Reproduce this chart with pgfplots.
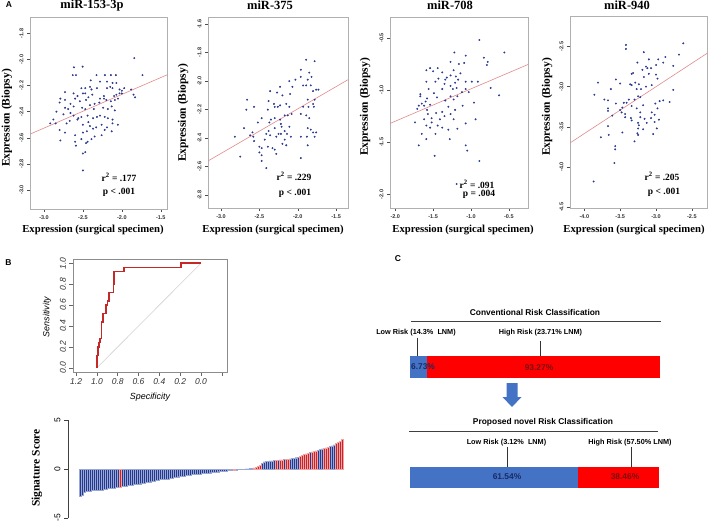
\documentclass[border=0pt]{standalone}
\usepackage{fontspec}
\setmainfont{Liberation Serif}
\setsansfont{Liberation Sans}
\usepackage{pgfplots}
\pgfplotsset{compat=1.18}
\definecolor{ptblue}{HTML}{2B3A8F}
\definecolor{regred}{HTML}{E08A8A}
\definecolor{boxgray}{HTML}{B0B0B0}
\definecolor{navy}{HTML}{253A8E}
\definecolor{lnavy}{HTML}{9AA8D6}
\definecolor{bred}{HTML}{C4262B}
\definecolor{lred}{HTML}{F2A3A3}
\definecolor{rocred}{HTML}{C62828}
\definecolor{cblue}{HTML}{4472C4}
\definecolor{cred}{HTML}{FF0000}
\definecolor{darkblue}{HTML}{1B2A66}
\definecolor{darkred}{HTML}{7A0F0F}
\definecolor{arrowblue}{HTML}{4472C4}

\pgfplotsset{
  scat/.style={
    scale only axis, anchor=south west,
    axis line style={boxgray, line width=0.9pt},
    tick pos=left, tick align=outside, major tick length=3pt,
    tick style={black!70, line width=0.45pt},
    ticklabel style={font=\sffamily\bfseries\fontsize{5.5}{6}\selectfont, text=black!80},
    yticklabel style={rotate=90, anchor=south},
    /pgf/number format/fixed,
    /pgf/number format/fixed zerofill,
    /pgf/number format/precision=1,
    /pgf/number format/assume math mode=true,
  },
  pts/.style={only marks, mark=*, mark size=0.75pt, ptblue},
  reg/.style={regred, line width=0.6pt},
}

\newcommand{\ttl}{\fontsize{12.5}{14}\selectfont\bfseries}
\newcommand{\xlab}{\fontsize{10.7}{12}\selectfont\bfseries}
\newcommand{\ylab}{\fontsize{11.5}{13}\selectfont\bfseries}
\newcommand{\ann}{\fontsize{9.5}{11}\selectfont\bfseries}
\newcommand{\ctit}{\sffamily\bfseries\fontsize{8.4}{10}\selectfont}
\newcommand{\clab}{\sffamily\bfseries\fontsize{7.3}{9}\selectfont}
\newcommand{\cpct}{\sffamily\bfseries\fontsize{8.4}{10}\selectfont}

\begin{document}
\begin{tikzpicture}[x=1pt,y=1pt]
\path[use as bounding box] (0,0) rectangle (709,525);

% ---------------- Panel A ----------------
\begin{axis}[scat, at={(30pt,316pt)}, width=137pt, height=192pt,
  xmin=-3.18, xmax=-1.42, ymin=-3.145, ymax=-1.675,
  xtick={-3,-2.5,-2,-1.5}, ytick={-3,-2.8,-2.6,-2.4,-2.2,-2,-1.8}]
\addplot[reg] coordinates {(-3.18,-2.572) (-1.42,-2.118)};
\addplot[pts] coordinates {
(-1.84,-1.99) (-1.735,-2.12) (-2.615,-2.06) (-2.504,-2.055)
(-2.63,-2.12) (-2.59,-2.12) (-2.325,-2.12) (-2.218,-2.12) (-2.141,-2.12) (-2.077,-2.12)
(-2.40,-2.16) (-2.28,-2.17) (-2.19,-2.17) (-2.12,-2.18) (-2.07,-2.18)
(-2.52,-2.22) (-2.47,-2.22) (-2.41,-2.21) (-2.39,-2.23) (-2.32,-2.22) (-2.19,-2.22) (-2.15,-2.21) (-2.12,-2.22) (-2.03,-2.23) (-2.00,-2.24) (-1.97,-2.22) (-2.03,-2.26) (-1.88,-2.23)
(-2.73,-2.25) (-2.62,-2.26) (-2.57,-2.28) (-2.50,-2.26) (-2.47,-2.26) (-2.43,-2.29) (-2.38,-2.27) (-2.28,-2.30) (-2.23,-2.28) (-2.10,-2.28) (-2.07,-2.27) (-2.00,-2.26) (-1.83,-2.29) (-1.85,-2.27)
(-2.79,-2.30) (-2.73,-2.31) (-2.66,-2.34) (-2.60,-2.30) (-2.54,-2.32) (-2.46,-2.31) (-2.41,-2.35) (-2.35,-2.34) (-2.29,-2.33) (-2.23,-2.30) (-2.20,-2.31) (-2.14,-2.32) (-2.09,-2.31) (-2.05,-2.30)
(-2.92,-2.49) (-2.80,-2.33) (-2.73,-2.37) (-2.69,-2.38) (-2.62,-2.36) (-2.51,-2.37) (-2.47,-2.38) (-2.36,-2.38) (-2.24,-2.37) (-2.18,-2.38) (-2.13,-2.36) (-2.09,-2.39)
(-2.84,-2.40) (-2.75,-2.42) (-2.66,-2.41) (-2.62,-2.43) (-2.56,-2.45) (-2.52,-2.44) (-2.44,-2.43) (-2.37,-2.45) (-2.32,-2.44) (-2.28,-2.43) (-2.22,-2.44) (-2.18,-2.45) (-2.12,-2.46)
(-2.88,-2.46) (-2.85,-2.49) (-2.71,-2.49) (-2.67,-2.47) (-2.57,-2.46) (-2.50,-2.50) (-2.43,-2.48) (-2.41,-2.51) (-2.37,-2.53) (-2.33,-2.52) (-2.26,-2.50) (-2.12,-2.49) (-2.05,-2.50) (-2.19,-2.52)
(-2.80,-2.54) (-2.73,-2.56) (-2.60,-2.58) (-2.50,-2.56) (-2.45,-2.55) (-2.35,-2.59) (-2.26,-2.58) (-2.13,-2.55) (-2.22,-2.54)
(-2.79,-2.62) (-2.60,-2.63) (-2.52,-2.61) (-2.46,-2.64) (-2.44,-2.63) (-2.39,-2.61) (-2.59,-2.66)
(-2.47,-2.71) (-2.50,-2.72) (-2.50,-2.85)
};
\end{axis}

\begin{axis}[scat, at={(208pt,317pt)}, width=140pt, height=191pt,
  xmin=-3.17, xmax=-1.345, ymin=-2.89, ymax=-1.55,
  xtick={-3,-2.5,-2,-1.5}, ytick={-2.8,-2.6,-2.4,-2.2,-2,-1.8,-1.6}]
\addplot[reg] coordinates {(-3.17,-2.56) (-1.345,-1.99)};
\addplot[pts] coordinates {
(-1.89,-1.85) (-1.78,-1.86) (-1.96,-1.92) (-1.85,-1.94) (-1.96,-1.97) (-1.82,-1.97) (-1.87,-1.99) (-2.03,-1.99)
(-1.93,-2.03) (-1.89,-2.03) (-1.83,-2.03) (-2.11,-2.00) (-2.07,-2.04) (-2.23,-2.04) (-2.36,-2.07) (-2.27,-2.08)
(-2.10,-2.09) (-1.80,-2.07) (-1.76,-2.06) (-1.73,-2.06) (-2.66,-2.13) (-2.38,-2.14) (-2.31,-2.16) (-2.23,-2.17)
(-2.15,-2.16) (-2.11,-2.18) (-2.30,-2.18) (-2.57,-2.18) (-2.26,-2.18) (-1.78,-2.13) (-1.80,-2.16) (-1.79,-2.18)
(-2.67,-2.20) (-2.39,-2.20) (-1.86,-2.18) (-2.08,-2.23) (-2.17,-2.24) (-2.13,-2.24) (-1.96,-2.23) (-1.89,-2.24)
(-1.85,-2.26) (-2.47,-2.26) (-2.30,-2.26) (-2.23,-2.27) (-2.37,-2.29) (-2.35,-2.27) (-2.52,-2.29) (-2.22,-2.30)
(-2.21,-2.32) (-2.11,-2.32) (-2.30,-2.33) (-2.70,-2.33) (-1.87,-2.33) (-2.38,-2.35) (-2.17,-2.35) (-2.22,-2.37)
(-2.41,-2.37) (-2.36,-2.38) (-2.25,-2.37) (-2.14,-2.37) (-1.83,-2.34) (-1.80,-2.36) (-1.76,-2.36) (-2.58,-2.39)
(-2.82,-2.39) (-2.28,-2.39) (-2.09,-2.39) (-1.96,-2.39) (-1.88,-2.39) (-1.78,-2.39) (-2.57,-2.42) (-2.43,-2.41)
(-2.17,-2.41) (-2.20,-2.44) (-2.15,-2.45) (-1.87,-2.45) (-2.50,-2.46) (-2.47,-2.47) (-2.39,-2.46) (-2.33,-2.47)
(-2.30,-2.48) (-2.50,-2.50) (-2.47,-2.52) (-2.28,-2.51) (-1.96,-2.54) (-2.75,-2.53) (-2.47,-2.56) (-2.41,-2.61)
(-2.59,-2.36) (-1.87,-2.13) (-1.93,-2.18) (-2.20,-2.10) (-2.62,-2.38)
};
\end{axis}

\begin{axis}[scat, at={(390pt,317pt)}, width=138pt, height=191pt,
  xmin=-2.07, xmax=-0.247, ymin=-2.13, ymax=-0.30,
  xtick={-2,-1.5,-1,-0.5}, ytick={-2,-1.5,-1,-0.5}]
\addplot[reg] coordinates {(-2.07,-1.32) (-0.247,-0.755)};
\addplot[pts] coordinates {
(-0.89,-0.52) (-0.56,-0.64) (-1.22,-0.64) (-1.07,-0.67) (-0.83,-0.69) (-1.27,-0.73) (-1.09,-0.74) (-0.78,-0.73)
(-0.79,-0.76) (-1.54,-0.79) (-1.44,-0.79) (-1.59,-0.81) (-1.50,-0.82) (-1.23,-0.81) (-1.16,-0.75) (-1.38,-0.83)
(-1.14,-0.84) (-1.27,-0.86) (-1.20,-0.87) (-1.32,-0.88) (-1.34,-0.90) (-1.43,-0.89) (-1.17,-0.90) (-1.07,-0.92)
(-0.99,-0.92) (-0.91,-0.92) (-1.59,-0.92) (-1.47,-0.92) (-1.21,-0.93) (-1.35,-0.94) (-1.27,-0.96) (-1.38,-0.99)
(-1.56,-0.99) (-1.19,-0.98) (-1.07,-0.99) (-0.74,-0.98) (-1.24,-0.99) (-1.67,-1.04) (-1.67,-1.06) (-1.49,-1.03)
(-1.12,-1.02) (-1.03,-1.02) (-0.63,-1.05) (-1.27,-1.06) (-1.18,-1.06) (-1.45,-1.07) (-1.58,-1.08) (-1.34,-1.10)
(-1.23,-1.09) (-1.60,-1.11) (-0.96,-1.12) (-1.65,-1.13) (-1.62,-1.15) (-1.54,-1.14) (-1.69,-1.15) (-1.30,-1.16)
(-1.11,-1.15) (-1.71,-1.18) (-1.58,-1.19) (-1.21,-1.19) (-1.38,-1.21) (-1.46,-1.22) (-1.27,-1.23) (-1.57,-1.23)
(-1.35,-1.25) (-1.52,-1.27) (-1.74,-1.31) (-1.41,-1.28) (-1.23,-1.28) (-1.62,-1.28) (-0.94,-1.28) (-1.52,-1.31)
(-1.07,-1.32) (-1.59,-1.34) (-1.44,-1.34) (-1.38,-1.36) (-1.54,-1.36) (-1.30,-1.38) (-1.18,-1.37) (-1.65,-1.42)
(-1.47,-1.42) (-1.59,-1.47) (-1.28,-1.47) (-1.69,-1.53) (-1.07,-1.53) (-1.05,-1.58) (-1.48,-1.63) (-0.89,-1.68)
(-1.19,-1.90)
};
\end{axis}

\begin{axis}[scat, at={(570pt,317pt)}, width=137pt, height=192pt,
  xmin=-4.2, xmax=-2.289, ymin=-4.51, ymax=-2.12,
  xtick={-4,-3.5,-3,-2.5}, ytick={-4.5,-4,-3.5,-3,-2.5}]
\addplot[reg] coordinates {(-4.2,-3.70) (-2.289,-2.585)};
\addplot[pts] coordinates {
(-2.62,-2.46) (-3.42,-2.48) (-3.42,-2.53) (-2.68,-2.60) (-3.17,-2.57) (-2.87,-2.63) (-2.97,-2.66) (-3.10,-2.66)
(-2.90,-2.70) (-3.26,-2.70) (-3.00,-2.73) (-2.76,-2.74) (-3.14,-2.75) (-3.12,-2.77) (-3.07,-2.77) (-3.19,-2.79)
(-3.32,-2.83) (-3.34,-2.84) (-3.10,-2.84) (-3.00,-2.85) (-3.17,-2.88) (-2.98,-2.90) (-3.56,-2.91) (-3.81,-2.95)
(-3.29,-2.95) (-3.50,-2.96) (-3.36,-2.97) (-3.24,-2.97) (-3.34,-2.98) (-3.06,-2.98) (-3.14,-3.00) (-3.21,-3.03)
(-3.63,-3.03) (-3.27,-3.03) (-2.76,-3.04) (-3.86,-3.10) (-3.25,-3.12) (-3.22,-3.13) (-3.72,-3.16) (-3.38,-3.16)
(-3.30,-3.16) (-3.67,-3.17) (-3.45,-3.20) (-3.41,-3.20) (-2.90,-3.17) (-2.81,-3.19) (-2.95,-3.18) (-3.01,-3.21)
(-3.56,-3.21) (-3.18,-3.23) (-3.34,-3.24) (-3.47,-3.26) (-3.67,-3.27) (-2.98,-3.27) (-3.27,-3.27) (-3.67,-3.30)
(-3.50,-3.29) (-3.48,-3.32) (-3.22,-3.32) (-3.43,-3.34) (-3.06,-3.32) (-3.02,-3.35) (-3.61,-3.36) (-3.43,-3.38)
(-3.35,-3.39) (-3.22,-3.38) (-3.07,-3.39) (-3.34,-3.42) (-3.16,-3.40) (-2.96,-3.41) (-3.25,-3.45) (-3.13,-3.45)
(-3.02,-3.44) (-3.24,-3.48) (-3.67,-3.49) (-3.25,-3.52) (-2.99,-3.52) (-3.18,-3.53) (-3.47,-3.57) (-3.26,-3.58)
(-3.66,-3.60) (-3.25,-3.60) (-3.04,-3.59) (-3.77,-3.63) (-3.30,-3.68) (-3.57,-3.74) (-3.57,-3.78) (-3.58,-3.95)
(-3.87,-4.18)
};
\end{axis}

% Panel A texts
\node[font=\ttl] at (92,519.5) {miR-153-3p};
\node[font=\ttl] at (270,519.5) {miR-375};
\node[font=\ttl] at (450,519.5) {miR-708};
\node[font=\ttl] at (627,519.5) {miR-940};
\foreach \cx in {93,273,463,634} {\node[font=\xlab] at (\cx,295) {Expression (surgical specimen)};}
\node[font=\ylab, rotate=90] at (7,407) {Expression (Biopsy)};
\node[font=\ylab, rotate=90] at (183,412) {Expression (Biopsy)};
\node[font=\ylab, rotate=90] at (365,418) {Expression (Biopsy)};
\node[font=\ylab, rotate=90] at (547,418) {Expression (Biopsy)};
\node[font=\ann] at (119,348) {r\textsuperscript{2} = .177};
\node[font=\ann] at (119,333) {p < .001};
\node[font=\ann] at (294,349) {r\textsuperscript{2} = .229};
\node[font=\ann] at (295,332) {p < .001};
\node[font=\ann] at (477,341) {r\textsuperscript{2} = .091};
\node[font=\ann] at (479,331) {p = .004};
\node[font=\ann] at (662,349) {r\textsuperscript{2} = .205};
\node[font=\ann] at (664,333) {p < .001};

% panel letters
\node[font=\sffamily\bfseries\fontsize{8.5}{10}\selectfont] at (9,520) {A};
\node[font=\sffamily\bfseries\fontsize{8.5}{10}\selectfont] at (8.5,262) {B};
\node[font=\sffamily\bfseries\fontsize{8.5}{10}\selectfont] at (398,266) {C};

% ---------------- Panel B: ROC ----------------
\begin{axis}[at={(73pt,153pt)}, anchor=south west, scale only axis, width=154pt, height=113pt,
  xmin=-0.25, xmax=1.23, ymin=-0.04, ymax=1.04, x dir=reverse,
  axis line style={black!45, line width=0.6pt},
  tick pos=left, tick align=outside, major tick length=3.5pt,
  tick style={black!60, line width=0.5pt},
  xtick={-0.2,0,0.2,0.4,0.6,0.8,1.0,1.2}, xticklabels={,0.0,0.2,0.4,0.6,0.8,1.0,1.2},
  ytick={0,0.2,0.4,0.6,0.8,1.0},
  yticklabel style={rotate=90, anchor=south},
  ticklabel style={font=\sffamily\itshape\fontsize{8.5}{9}\selectfont, text=black!80},
  /pgf/number format/fixed, /pgf/number format/fixed zerofill,
  /pgf/number format/precision=1, /pgf/number format/assume math mode=true]
\addplot[black!18, line width=0.6pt] coordinates {(1,0) (0,1)};
\addplot[rocred, line width=1.5pt] coordinates {
(1,0) (1,0.12) (0.99,0.12) (0.99,0.20) (0.98,0.20) (0.98,0.24) (0.97,0.24) (0.97,0.28)
(0.955,0.28) (0.955,0.44) (0.94,0.44) (0.94,0.52) (0.915,0.52) (0.915,0.60) (0.90,0.60)
(0.90,0.64) (0.885,0.64) (0.885,0.72) (0.843,0.72) (0.843,0.80) (0.834,0.80) (0.834,0.92)
(0.738,0.92) (0.738,0.96) (0.19,0.96) (0.19,1.0) (0,1.0)};
\end{axis}
\node[font=\sffamily\itshape\fontsize{8.9}{10}\selectfont, rotate=90] at (47,208) {Sensitivity};
\node[font=\sffamily\itshape\fontsize{8.9}{10}\selectfont] at (150,128) {Specificity};

% ---------------- Panel B: signature score bars ----------------
\begin{axis}[at={(68pt,7pt)}, anchor=south west, scale only axis, width=282pt, height=98pt,
  xmin=-6, xmax=135, ymin=-5, ymax=5,
  axis x line=none, axis y line*=left, y axis line style={-, black!75, line width=0.6pt},
  ytick={-5,0,5}, yticklabels={-5,0,5}, tick align=outside, major tick length=4pt,
  tick style={black!75, line width=0.6pt},
  yticklabel style={rotate=90, anchor=south, font=\sffamily\fontsize{8.5}{9}\selectfont},
  clip=false]
\addplot[ybar, bar width=1, bar shift=0pt, fill=navy, draw=lnavy, line width=0.4pt] coordinates {
(0,-2.78) (1,-2.70) (2,-2.40) (3,-2.30) (4,-2.25) (5,-2.22) (6,-2.21) (7,-2.20) (8,-2.19) (9,-2.17)
(10,-2.15) (11,-2.12) (12,-2.08) (13,-2.04) (14,-2.00) (15,-1.98) (16,-1.95) (17,-1.92) (18,-1.90) (19,-1.88)
(21,-1.80) (22,-1.77) (23,-1.73) (24,-1.70) (25,-1.67) (26,-1.63) (27,-1.60) (28,-1.57) (29,-1.53)
(30,-1.50) (31,-1.46) (32,-1.42) (33,-1.38) (34,-1.34) (35,-1.30) (36,-1.25) (37,-1.20) (38,-1.15) (39,-1.10)
(40,-1.08) (41,-1.06) (42,-1.04) (43,-1.02) (44,-1.00) (45,-0.95) (46,-0.90) (47,-0.85) (48,-0.82) (49,-0.79)
(50,-0.76) (51,-0.73) (52,-0.70) (53,-0.67) (54,-0.64) (55,-0.61) (56,-0.58) (57,-0.55) (58,-0.53) (59,-0.51)
(60,-0.49) (61,-0.46) (62,-0.44) (63,-0.42) (64,-0.40) (65,-0.38) (66,-0.35) (67,-0.33) (68,-0.30) (69,-0.28)
(70,-0.25) (71,-0.23) (72,-0.21) (73,-0.19) (74,-0.17) (75,-0.14) (76,-0.12) (78,-0.08) (79,-0.06)
(80,-0.05) (81,-0.03) (82,-0.02) (83,0.01) (84,0.02) (85,0.05) (86,0.08)
(91,0.55) (92,0.72) (93,0.78) (94,0.80) (95,0.82) (96,0.84) (97,0.86) (99,0.90) (102,0.96)
(105,1.03) (106,1.07) (107,1.10) (108,1.15) (109,1.20) (115,1.70) (119,1.93) (120,2.00) (121,2.05)
(125,2.30) (126,2.35) (127,2.45)};
\addplot[ybar, bar width=1, bar shift=0pt, fill=bred, draw=lred, line width=0.4pt] coordinates {
(20,-1.85) (77,-0.10) (87,0.12) (88,0.18) (89,0.25) (90,0.40) (98,0.88) (100,0.92) (101,0.94) (103,0.98)
(104,1.00) (110,1.30) (111,1.40) (112,1.48) (113,1.55) (114,1.62) (116,1.75) (117,1.80) (118,1.86)
(122,2.10) (123,2.15) (124,2.22) (128,2.60) (129,2.70) (130,2.82) (131,3.00)};
\end{axis}
\node[font=\fontsize{11.5}{13}\selectfont\bfseries, rotate=90] at (37,57) {Signature Score};

% ---------------- Panel C ----------------
\node[font=\ctit] at (535,213) {Conventional Risk Classification};
\draw[black!75, line width=0.8pt] (411,204) -- (661,204);
\node[font=\clab] at (416,192) {Low Risk (14.3\%\ \ LNM)};
\node[font=\clab] at (540.5,192) {High Risk (23.71\% LNM)};
\draw[black!80, line width=0.7pt] (417,187) -- (417,169);
\draw[black!80, line width=0.7pt] (540,184) -- (540,169);
\begin{axis}[at={(410pt,147pt)}, anchor=south west, scale only axis, width=250pt, height=22pt,
  xmin=0, xmax=100, ymin=-1, ymax=1, hide axis, xbar stacked, bar width=2, clip=false]
\addplot[fill=cblue, draw=none] coordinates {(6.73,0)};
\addplot[fill=cred, draw=none] coordinates {(93.27,0)};
\end{axis}
\node[font=\cpct, text=darkblue] at (423,158) {6.73\%};
\node[font=\cpct, text=darkred] at (539,157) {93.27\%};

\fill[arrowblue] (506.5,142) -- (517.5,142) -- (517.5,128) -- (521.5,128) -- (512,118) -- (502.5,128) -- (506.5,128) -- cycle;

\node[font=\ctit] at (543,103) {Proposed novel Risk Classification};
\draw[black!75, line width=0.8pt] (409,94) -- (658,94);
\node[font=\clab] at (506.5,82) {Low Risk (3.12\%\ \ LNM)};
\node[font=\clab] at (630,82) {High Risk (57.50\% LNM)};
\draw[black!80, line width=0.7pt] (507,78) -- (507,58);
\draw[black!80, line width=0.7pt] (631,78) -- (631,58);
\begin{axis}[at={(410pt,37pt)}, anchor=south west, scale only axis, width=249pt, height=21pt,
  xmin=0, xmax=100, ymin=-1, ymax=1, hide axis, xbar stacked, bar width=2, clip=false]
\addplot[fill=cblue, draw=none] coordinates {(67.5,0)};
\addplot[fill=cred, draw=none] coordinates {(32.5,0)};
\end{axis}
\node[font=\cpct, text=darkblue] at (507,48) {61.54\%};
\node[font=\cpct, text=darkred] at (625,48) {38.46\%};
\end{tikzpicture}
\end{document}
